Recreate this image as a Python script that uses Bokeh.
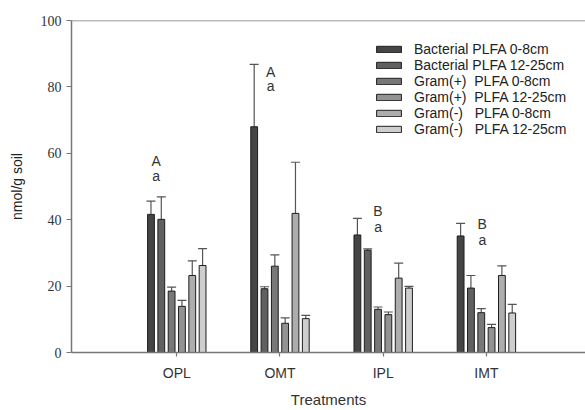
from bokeh.plotting import figure
from bokeh.models import (ColumnDataSource, Whisker, TeeHead, Legend, LegendItem,
                          FixedTicker, Span, LabelSet)
from bokeh.core.properties import value
from bokeh.embed import file_html
from bokeh.resources import INLINE

categories = ["OPL", "OMT", "IPL", "IMT"]
series_names = ["Bacterial PLFA 0-8cm", "Bacterial PLFA 12-25cm",
                "Gram(+)  PLFA 0-8cm", "Gram(+)  PLFA 12-25cm",
                "Gram(-)   PLFA 0-8cm", "Gram(-)   PLFA 12-25cm"]
bact_0_8 = [41.6, 68.0, 35.4, 35.1]
bact_0_8_err = [4.0, 18.8, 5.0, 3.8]
bact_12_25 = [40.1, 19.2, 30.8, 19.4]
bact_12_25_err = [6.8, 0.6, 0.4, 3.8]
gpos_0_8 = [18.5, 26.0, 13.0, 12.0]
gpos_0_8_err = [1.2, 3.4, 0.7, 1.2]
gpos_12_25 = [13.9, 8.8, 11.4, 7.5]
gpos_12_25_err = [1.8, 1.6, 0.8, 1.0]
gneg_0_8 = [23.2, 41.9, 22.4, 23.2]
gneg_0_8_err = [4.4, 15.4, 4.5, 2.9]
gneg_12_25 = [26.2, 10.2, 19.4, 11.9]
gneg_12_25_err = [5.1, 1.0, 0.5, 2.6]
upper_letters = ["A", "A", "B", "B"]
lower_letters = ["a", "a", "a", "a"]
upper_letter_y = [57.6, 84.4, 42.6, 38.6]
lower_letter_y = [53.1, 80.2, 37.9, 33.9]
letter_offset = [-0.2, -0.09, -0.05, -0.04]
y_ticks = [0, 20, 40, 60, 80, 100]
x_title = "Treatments"
y_title = "nmol/g soil"

series = [(bact_0_8, bact_0_8_err), (bact_12_25, bact_12_25_err),
          (gpos_0_8, gpos_0_8_err), (gpos_12_25, gpos_12_25_err),
          (gneg_0_8, gneg_0_8_err), (gneg_12_25, gneg_12_25_err)]
colors = ["#454545", "#606060", "#787878", "#939393", "#adadad", "#cecece"]
offsets = [-0.25, -0.15, -0.05, 0.05, 0.15, 0.25]

p = figure(width=585, height=410, output_backend="svg", toolbar_location=None,
           x_range=(-0.02, 4.96), y_range=(0, 100),
           min_border_left=71, min_border_right=0, min_border_top=20,
           min_border_bottom=56)
p.outline_line_color = None
p.grid.grid_line_color = None
p.background_fill_color = "white"

xs_base = list(range(1, len(categories) + 1))
items = []
for (vals, errs), col, off, name in zip(series, colors, offsets, series_names):
    xs = [b + off for b in xs_base]
    src = ColumnDataSource(dict(x=xs, top=vals, upper=[v + e for v, e in zip(vals, errs)]))
    w = Whisker(base="x", lower="top", upper="upper", source=src, dimension="height",
                line_color="#555555", line_width=1.2,
                upper_head=TeeHead(size=9, line_color="#555555", line_width=1.2),
                lower_head=None)
    p.add_layout(w)
    r = p.vbar(x="x", top="top", width=0.066, bottom=0, source=src,
               fill_color=col, line_color="#1e1e1e", line_width=1)
    items.append(LegendItem(label=name, renderers=[r]))

lsrc = ColumnDataSource(dict(
    x=[b + o for b, o in zip(xs_base, letter_offset)] * 2,
    y=upper_letter_y + lower_letter_y,
    t=upper_letters + lower_letters))
labels = LabelSet(x="x", y="y", text="t", source=lsrc, text_align="center",
                  text_baseline="middle", text_font=value("Liberation Sans"),
                  text_font_size="14px", text_color="#333333")
p.add_layout(labels)

p.add_layout(Span(location=100, dimension="width", line_color="#777777", line_width=1.5))

legend = Legend(items=items, location=(302, 215), padding=0, margin=0,
                border_line_color=None, background_fill_alpha=0,
                glyph_width=31, glyph_height=8, label_height=14, spacing=0,
                label_standoff=10, label_text_font="Liberation Sans",
                label_text_font_size="14px", label_text_color="#222222",
                label_text_baseline="middle")
p.add_layout(legend)

p.xaxis.ticker = FixedTicker(ticks=xs_base)
p.xaxis.major_label_overrides = {b: c for b, c in zip(xs_base, categories)}
p.xaxis.minor_tick_line_color = None
p.xaxis.major_tick_out = 4
p.xaxis.major_tick_in = 0
p.xaxis.major_label_standoff = 8
p.xaxis.major_label_text_font = "Liberation Sans"
p.xaxis.major_label_text_font_size = "14px"
p.xaxis.major_label_text_color = "#333333"
p.xaxis.axis_label = x_title
p.xaxis.axis_label_standoff = 7
p.xaxis.axis_label_text_font = "Liberation Sans"
p.xaxis.axis_label_text_font_size = "15px"
p.xaxis.axis_label_text_font_style = "normal"
p.xaxis.axis_label_text_color = "#333333"

p.yaxis.ticker = FixedTicker(ticks=y_ticks)
p.yaxis.minor_tick_line_color = None
p.yaxis.major_tick_out = 5
p.yaxis.major_tick_in = 0
p.yaxis.major_label_standoff = 5
p.yaxis.major_label_text_font = "Liberation Serif"
p.yaxis.major_label_text_font_size = "14px"
p.yaxis.major_label_text_color = "#333333"
p.yaxis.axis_label = y_title
p.yaxis.axis_label_standoff = 13
p.yaxis.axis_label_text_font = "Liberation Sans"
p.yaxis.axis_label_text_font_size = "14px"
p.yaxis.axis_label_text_font_style = "normal"
p.yaxis.axis_label_text_color = "#222222"

for ax in (p.xaxis, p.yaxis):
    ax.axis_line_color = "#777777"
    ax.axis_line_width = 1.5
    ax.major_tick_line_color = "#777777"
    ax.major_tick_line_width = 1.2

open("out.html", "w").write(file_html(p, INLINE))
